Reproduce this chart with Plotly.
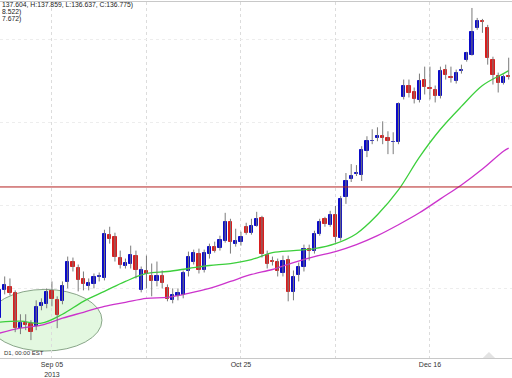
import plotly.graph_objects as go

# ---- data (daily candles, index 0..97) ----
opens = [131.60,132.44,132.53,132.35,131.30,131.45,131.42,131.36,131.96,132.02,
         132.41,132.14,132.11,132.68,133.31,133.13,132.77,132.56,132.62,132.83,
         132.80,134.12,134.06,133.43,133.19,133.25,133.49,132.44,133.01,132.86,
         132.71,132.86,132.50,132.14,132.26,132.29,133.01,133.31,133.55,133.04,
         133.55,133.76,133.73,133.94,134.51,133.85,133.91,134.36,134.18,134.39,
         134.63,133.52,133.34,133.31,132.95,133.37,132.38,132.89,133.16,133.70,
         133.64,134.15,134.60,134.42,134.72,134.03,135.26,135.80,135.95,135.92,
         136.64,136.94,137.03,137.09,137.03,136.91,136.91,138.26,138.62,138.41,
         138.17,138.80,138.56,138.50,138.29,139.10,138.89,138.77,139.07,139.40,
         139.55,140.36,140.57,140.36,139.40,138.92,138.71,138.92]
highs = [132.56,132.86,132.80,132.44,131.72,131.72,131.54,132.14,132.20,132.50,
         132.71,132.26,132.71,133.46,133.43,133.22,133.01,132.80,132.95,132.98,
         134.27,134.36,134.18,133.64,133.40,133.79,133.64,133.16,133.49,133.25,
         133.31,133.04,132.62,132.50,132.50,133.04,133.61,133.67,133.70,133.67,
         133.85,133.91,134.09,134.78,134.60,134.30,134.21,134.48,134.60,134.81,
         134.69,133.64,133.46,133.40,133.49,133.49,133.04,133.28,133.82,133.82,
         134.24,134.60,134.66,134.84,134.99,135.29,135.98,136.25,136.22,136.79,
         137.09,137.30,137.36,137.54,137.24,137.21,138.11,138.80,138.80,138.56,
         138.98,139.19,139.19,138.62,139.19,139.25,139.19,139.10,139.25,139.64,
         140.96,140.66,140.63,140.45,139.49,139.01,138.95,139.46]
lows = [131.48,132.32,132.29,131.18,131.12,131.24,130.94,131.24,131.84,131.90,
        131.96,131.30,132.02,132.50,133.01,132.41,132.44,132.44,132.50,132.71,
        132.74,133.85,133.31,133.10,133.10,133.10,132.80,132.38,132.50,132.26,
        132.56,132.50,132.11,132.05,132.14,132.20,132.86,133.22,132.95,132.98,
        133.40,133.58,133.64,133.88,133.55,133.76,133.79,134.12,134.12,134.36,
        133.43,133.10,133.19,132.86,132.86,132.11,132.14,132.71,133.01,133.34,
        133.55,134.09,134.36,134.36,133.88,133.94,135.05,135.71,135.89,135.74,
        136.46,136.85,136.94,136.85,136.55,136.55,136.85,138.20,138.26,138.08,
        138.11,138.35,138.20,138.11,138.23,138.80,138.71,138.68,138.98,139.34,
        139.52,140.30,140.21,139.25,138.65,138.41,138.65,138.80]
closes = [132.44,132.59,132.35,131.30,131.45,131.39,131.18,131.93,132.05,132.38,
          132.17,131.69,132.56,133.31,133.16,132.74,132.62,132.65,132.83,132.86,
          134.15,134.00,133.46,133.22,133.28,133.52,133.07,133.07,132.92,132.71,
          132.86,132.65,132.17,132.29,132.35,132.95,133.46,133.58,133.04,133.58,
          133.76,133.64,133.97,134.51,133.91,133.94,134.06,134.18,134.39,134.60,
          133.55,133.25,133.31,133.01,133.34,132.38,132.83,133.16,133.70,133.64,
          134.15,134.51,134.45,134.72,134.06,135.20,135.74,135.89,135.97,136.67,
          136.94,136.96,137.09,137.03,136.94,136.93,138.05,138.62,138.38,138.20,
          138.77,138.59,138.53,138.29,139.07,138.95,138.86,139.01,139.09,139.61,
          140.24,140.57,140.54,139.46,138.95,138.71,138.89,138.89]

# moving averages read at selected candles
ma_idx = [0,4,8,12,16,20,24,28,32,36,40,44,48,52,56,60,64,68,72,76,80,84,88,92,96,97]
ma_fast = [131.48,131.51,131.45,131.72,132.11,132.41,132.71,132.95,133.01,133.10,
           133.19,133.25,133.37,133.58,133.64,133.70,133.85,134.15,134.72,135.47,
           136.46,137.30,137.99,138.62,138.98,139.07]
ma_slow = [131.15,131.30,131.39,131.60,131.78,131.96,132.08,132.20,132.23,132.35,
           132.50,132.71,132.92,133.07,133.28,133.46,133.61,133.82,134.09,134.42,
           134.78,135.20,135.62,136.10,136.64,136.73]
level = 135.56

tick_idx = [10, 28, 46, 64, 82]
tick_text = ["Sep 05<br>2013", "", "Oct 25", "", "Dec 16"]
grid_prices = [132.5, 135.0, 137.5, 140.0]

header = ["137.604, H:137.859, L:136.637, C:136.775)", "8.522)", "7.672)"]
footer = "D1, 00:00 EST"

UP = "#0a0ac8"
DOWN = "#d81e1e"
FONT = "Liberation Sans, Arial, sans-serif"

n = len(opens)
xs = list(range(n))

wx, wy = [], []
for i in xs:
    wx += [i, i, None]
    wy += [lows[i], highs[i], None]

colors = [UP if c >= o else DOWN for o, c in zip(opens, closes)]

fig = go.Figure()
fig.add_trace(go.Scatter(x=ma_idx, y=ma_slow, mode="lines",
                         line=dict(color="#cc33cc", width=1.3, shape="spline"),
                         hoverinfo="skip"))
fig.add_trace(go.Scatter(x=ma_idx, y=ma_fast, mode="lines",
                         line=dict(color="#3ccf3c", width=1.3, shape="spline"),
                         hoverinfo="skip"))
fig.add_trace(go.Scatter(x=wx, y=wy, mode="lines",
                         line=dict(color="#7a7a7a", width=1), hoverinfo="skip"))
fig.add_trace(go.Bar(x=xs, base=opens, y=[c - o for o, c in zip(opens, closes)],
                     width=0.6, marker=dict(color=colors, line=dict(color=colors, width=1))))

fig.add_hline(y=level, line=dict(color="#b52020", width=1))

fig.add_shape(type="circle", xref="x", yref="y", x0=-2.18, x1=19.53, y0=130.61, y1=132.47,
              fillcolor="rgba(175,235,165,0.35)", line=dict(color="#6f8f6f", width=0.8),
              layer="below")
fig.add_shape(type="path", xref="paper", yref="paper",
              path="M 0.943 0.0 L 0.955 0.017 L 0.967 0.0 Z",
              fillcolor="#e3e3e3", line=dict(width=0))

for k, t in enumerate(header):
    fig.add_annotation(text=t, xref="paper", yref="paper", x=0, y=(355 - 7 * k) / 358,
                       xanchor="left", yanchor="middle", showarrow=False,
                       font=dict(family=FONT, size=6.8, color="#222"))
fig.add_annotation(text=footer, xref="paper", yref="paper", x=0.003, y=0.014,
                   xanchor="left", yanchor="middle", showarrow=False,
                   font=dict(family=FONT, size=6, color="#333"))

fig.update_layout(
    width=512, height=378, showlegend=False,
    margin=dict(l=0, r=0, t=2, b=18),
    paper_bgcolor="white", plot_bgcolor="white",
    bargap=0,
    xaxis=dict(range=[0.105, 97.63], tickvals=tick_idx, ticktext=tick_text,
               showgrid=True, gridcolor="#dcdcdc", griddash="dot", gridwidth=1,
               showline=True, linecolor="#c8c8c8", mirror=True, zeroline=False,
               ticks="", tickfont=dict(family=FONT, size=7, color="#333")),
    yaxis=dict(range=[130.40, 141.14], tickvals=grid_prices, showticklabels=False,
               showgrid=True, gridcolor="#ededed", griddash="dot", zeroline=False,
               ticks=""),
)

fig.write_html("out.html", config={"displayModeBar": False},
               post_script="document.body.style.margin='0';document.body.style.overflow='hidden';")
